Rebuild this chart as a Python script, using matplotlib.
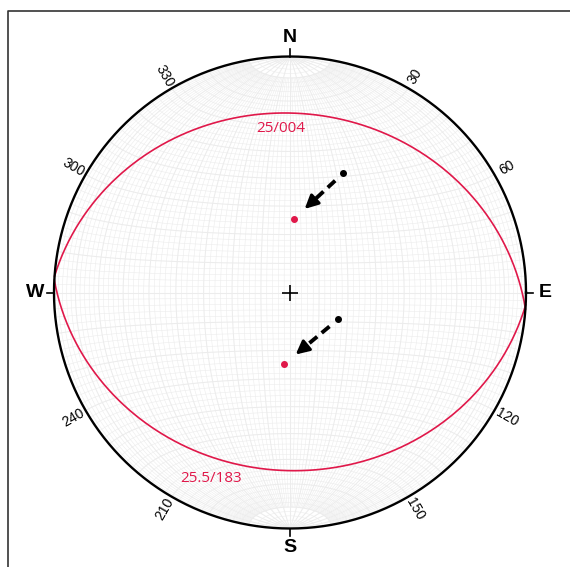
import numpy as np
import matplotlib.pyplot as plt

# planes: dip / dip direction
plane_dip = [25, 25.5]
plane_dipdir = [4, 183]
plane_labels = ['25/004', '25.5/183']

# black points (trend / plunge) and red points (poles) they move to
black_trend = [24, 119]
black_plunge = [44, 71]
red_trend = [3, 185]
red_plunge = [64.5, 65]

tick_az = [30, 60, 120, 150, 210, 240, 300, 330]
cardinal_names = ['N', 'E', 'S', 'W']
cardinal_az = [0, 90, 180, 270]

red = '#e0184a'
grid_col = '#ececec'


def project(e, n, d):
    """Equal-area (Schmidt) lower hemisphere, unit radius"""
    s = 1.0 / np.sqrt(1.0 + d)
    return e * s, n * s


def line_xy(trend, plunge):
    t, p = np.radians(trend), np.radians(plunge)
    return project(np.cos(p) * np.sin(t), np.cos(p) * np.cos(t), np.sin(p))


def plane_xy(dipdir, dip, n=361):
    dd, dp = np.radians(dipdir), np.radians(dip)
    a = np.radians(np.linspace(0, 180, n))
    st = dd - np.pi / 2
    e = np.cos(a) * np.sin(st) + np.sin(a) * np.cos(dp) * np.sin(dd)
    nn = np.cos(a) * np.cos(st) + np.sin(a) * np.cos(dp) * np.cos(dd)
    d = np.sin(a) * np.sin(dp)
    return project(e, nn, d)


fig = plt.figure(figsize=(5.7, 5.67), dpi=100)
ax = fig.add_axes([0, 0, 1, 1])
R = 236.0
cx, cy = 290.0, 567 - 292.5
ax.set_xlim(-cx / R, (570 - cx) / R)
ax.set_ylim(-cy / R, (567 - cy) / R)
ax.set_aspect('equal')
ax.axis('off')

# frame
fx, fy = (8 - cx) / R, (567 - 11 - cy) / R
ax.plot([fx, fx, 2], [-2, fy, fy], color='#333333', lw=1.2)

# net grid (axis N-S)
phi_all = np.radians(np.linspace(0, 180, 361))
for psi_deg in range(2, 180, 2):
    psi = np.radians(psi_deg)
    if psi_deg % 10 == 0:
        phi = phi_all
        lw = 0.75
    else:
        phi = np.radians(np.linspace(10, 170, 321))
        lw = 0.4
    x, y = project(np.sin(phi) * np.cos(psi), np.cos(phi), np.sin(phi) * np.sin(psi))
    ax.plot(x, y, color=grid_col, lw=lw, zorder=1)

psi_all = np.radians(np.linspace(0, 180, 361))
for phi_deg in range(2, 180, 2):
    phi = np.radians(phi_deg)
    lw = 0.75 if phi_deg % 10 == 0 else 0.4
    x, y = project(np.sin(phi) * np.cos(psi_all), np.full_like(psi_all, np.cos(phi)),
                   np.sin(phi) * np.sin(psi_all))
    ax.plot(x, y, color=grid_col, lw=lw, zorder=1)

# primitive circle
th = np.linspace(0, 2 * np.pi, 721)
ax.plot(np.cos(th), np.sin(th), color='black', lw=1.7, zorder=5)

# cardinal ticks and labels
for name, az in zip(cardinal_names, cardinal_az):
    a = np.radians(az)
    ax.plot([np.sin(a), 1.03 * np.sin(a)], [np.cos(a), 1.03 * np.cos(a)], color='black', lw=1.2)
    ax.text(1.08 * np.sin(a), 1.08 * np.cos(a), name, ha='center', va='center',
            fontsize=14, fontweight='bold', family='Liberation Sans')

# azimuth labels
for az in tick_az:
    a = np.radians(az)
    rot = 90 - az
    while rot > 90:
        rot -= 180
    while rot <= -90:
        rot += 180
    ax.text(1.06 * np.sin(a), 1.06 * np.cos(a), str(az), ha='center', va='center',
            fontsize=10, rotation=rot, rotation_mode='anchor', family='Liberation Sans')

# planes
label_offsets = [(-16, -11), (-50, -6)]
for dip, dd, lab, off in zip(plane_dip, plane_dipdir, plane_labels, label_offsets):
    x, y = plane_xy(dd, dip)
    ax.plot(x, y, color=red, lw=1.2, zorder=4)
    ax.annotate(lab, xy=line_xy(dd, dip), xytext=off, textcoords='offset points',
                ha='center', va='center', color=red, fontsize=11, family='Open Sans')

# center cross
ax.plot(0, 0, marker='+', color='black', ms=11, mew=1.2, zorder=6)

# points and arrows
bx, by = line_xy(np.array(black_trend), np.array(black_plunge))
rx, ry = line_xy(np.array(red_trend), np.array(red_plunge))
ax.plot(bx, by, 'o', color='black', ms=4, zorder=7)
ax.plot(rx, ry, 'o', color=red, ms=4, zorder=7)
for i in range(len(bx)):
    vx, vy = rx[i] - bx[i], ry[i] - by[i]
    sx, sy = bx[i] + 0.16 * vx, by[i] + 0.16 * vy
    tx, ty = bx[i] + 0.78 * vx, by[i] + 0.78 * vy
    hx, hy = bx[i] + 0.62 * vx, by[i] + 0.62 * vy
    ax.plot([sx, hx], [sy, hy], color='black', lw=2.8, dashes=(2.6, 1.5), zorder=7)
    ax.annotate('', xy=(tx, ty), xytext=(hx, hy),
                arrowprops=dict(arrowstyle='-|>,head_length=0.8,head_width=0.4',
                                color='black', lw=2.2, shrinkA=0, shrinkB=0), zorder=7)

plt.savefig('out.png', dpi=100)
plt.close()
